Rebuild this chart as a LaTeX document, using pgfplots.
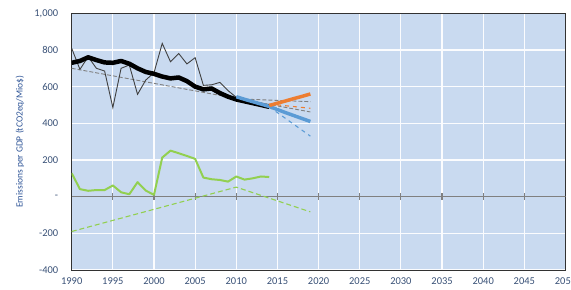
\documentclass[border=0pt]{standalone}
\usepackage{pgfplots}
\pgfplotsset{compat=1.18}
\usepackage{fontspec}
\setmainfont{Carlito}
\definecolor{bg}{RGB}{201,218,240}
\definecolor{labc}{RGB}{56,80,118}
\definecolor{ylabc}{RGB}{47,85,151}
\definecolor{axisc}{RGB}{50,50,50}
\definecolor{zeroc}{RGB}{128,128,128}
\definecolor{thinc}{RGB}{64,64,64}
\definecolor{bluec}{RGB}{91,155,213}
\definecolor{orangec}{RGB}{237,125,49}
\definecolor{greenc}{RGB}{146,208,80}
\begin{document}
\begin{tikzpicture}
\begin{axis}[
  at={(0,0)}, anchor=south west,
  scale only axis, width=493.8bp, height=256.7bp,
  xmin=1990, xmax=2050, ymin=-400, ymax=1000,
  xtick={1990,1995,...,2050},
  ytick={-400,-200,0,200,400,600,800,1000},
  yticklabels={-400,-200,{-},200,400,600,800,{1,000}},
  xticklabel style={/pgf/number format/1000 sep={}, yshift=-4bp},
  yticklabel style={xshift=-10bp},
  /pgf/number format/assume math mode=true,
  grid=major, major grid style={draw=white!92!bg, line width=1.2pt},
  major tick length=0pt,
  axis background/.style={fill=bg},
  axis line style={draw=axisc, line width=1pt},
  tick label style={font=\fontsize{10.5}{12}\selectfont, text=labc},
  ylabel={Emissions per GDP (tCO2eq/Mio\$)},
  ylabel style={at={(axis description cs:-0.105,0.5)}, anchor=center, font=\fontsize{9.5}{11}\selectfont, text=ylabc},
]
% zero line with tick marks
\addplot[zeroc, line width=1.2pt, forget plot] coordinates {(1990,0) (2050,0)};
\pgfplotsinvokeforeach{1995,2000,...,2045}{
  \draw[zeroc, line width=1.2pt] (axis cs:#1,-19) -- (axis cs:#1,19);
}
% long gray dashed trend
\addplot[zeroc, line width=0.9pt, dash pattern=on 4pt off 2pt] coordinates {(1990,700) (2019,462)};
% upper gray dashed
\addplot[zeroc, line width=0.9pt, dash pattern=on 4pt off 2pt] coordinates {(2011,532) (2019,518)};
% thin annual line
\addplot[thinc, line width=0.9pt] coordinates {
(1990,809) (1991,694) (1992,763) (1993,700) (1994,685) (1995,486) (1996,700)
(1997,718) (1998,558) (1999,636) (2000,676) (2001,836) (2002,736) (2003,781)
(2004,724) (2005,758) (2006,607) (2007,610) (2008,623) (2009,578) (2010,542)
(2011,525) (2012,522) (2013,508) (2014,495)};
% black thick line
\addplot[black, line width=4.5pt, line join=round] coordinates {
(1990,730) (1991,740) (1992,760) (1993,745) (1994,732) (1995,730) (1996,740)
(1997,725) (1998,700) (1999,680) (2000,670) (2001,655) (2002,645) (2003,650)
(2004,630) (2005,600) (2006,585) (2007,590) (2008,565) (2009,545) (2010,530)
(2011,520) (2012,510) (2013,500) (2014,490)};
% blue thick
\addplot[bluec, line width=3.5pt, line join=round] coordinates {
(2010,545) (2011,531) (2012,518) (2013,505) (2014,492) (2015,475) (2016,458)
(2017,442) (2018,426) (2019,410)};
% orange thick
\addplot[orangec, line width=3.5pt, line join=round] coordinates {
(2014,497) (2015,510) (2016,522) (2017,535) (2018,547) (2019,560)};
% dashed projections
\addplot[bluec, line width=1.1pt, dash pattern=on 4pt off 4pt] coordinates {(2014,490) (2019,330)};
\addplot[orangec, line width=1.1pt, dash pattern=on 4pt off 4pt] coordinates {(2014,505) (2019,482)};
% green
\addplot[greenc, line width=2pt, line join=round] coordinates {
(1990,128) (1991,41) (1992,32) (1993,36) (1994,36) (1995,61) (1996,24)
(1997,13) (1998,79) (1999,33) (2000,10) (2001,213) (2002,251) (2003,237)
(2004,222) (2005,206) (2006,104) (2007,95) (2008,91) (2009,82) (2010,110)
(2011,93) (2012,100) (2013,110) (2014,107)};
\addplot[greenc, line width=1.1pt, dash pattern=on 5pt off 3pt] coordinates {(1990,-190) (2010,52) (2019,-83)};
\end{axis}
\pgfresetboundingbox
\path (-71.7bp,-20bp) rectangle (499.3bp,270bp);
\end{tikzpicture}
\end{document}
